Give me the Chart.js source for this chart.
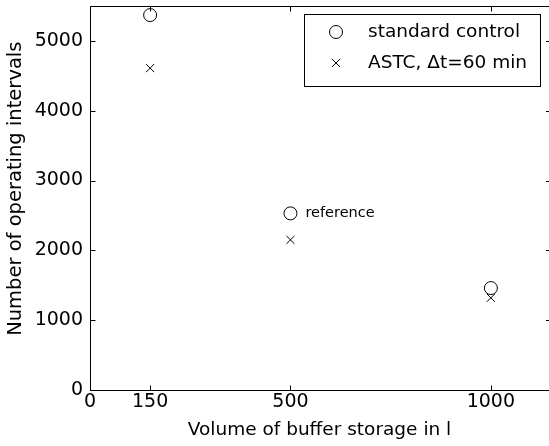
<!DOCTYPE html>
<html>
<head>
<meta charset="utf-8">
<script src="https://cdn.jsdelivr.net/npm/chart.js@4"></script>
<style>
  html, body { margin: 0; padding: 0; background: #fff; overflow: hidden; }
  #wrap { width: 549px; height: 446px; }
</style>
</head>
<body>
<div id="wrap"><canvas id="chart"></canvas></div>
<script>
// values
const volumes = [150, 500, 1000];
const standardControl = [5370, 2530, 1460];
const astc = [4610, 2150, 1320];

const xTicks = [0, 150, 500, 1000];
const yTicks = [0, 1000, 2000, 3000, 4000, 5000];
const seriesNames = ["standard control", "ASTC, \u0394t=60 min"];
const noteText = "reference";

const FONT = "'DejaVu Sans', sans-serif";

// frame, inward ticks, legend box and the "reference" note
const matlabAxes = {
  id: "matlabAxes",
  afterDatasetsDraw(chart) {
    const ctx = chart.ctx;
    const a = chart.chartArea;
    const xs = chart.scales.x, ys = chart.scales.y;
    const L = Math.round(a.left) + 0.5, T = Math.round(a.top) + 0.5;
    const B = Math.round(a.bottom) + 0.5, R = a.right;
    ctx.save();
    ctx.strokeStyle = "#000";
    ctx.lineWidth = 1;
    ctx.beginPath();
    ctx.moveTo(R, T); ctx.lineTo(L, T); ctx.lineTo(L, B); ctx.lineTo(R, B);
    xTicks.forEach(v => {
      const px = Math.round(xs.getPixelForValue(v)) + 0.5;
      ctx.moveTo(px, B); ctx.lineTo(px, B - 5);
      ctx.moveTo(px, T); ctx.lineTo(px, T + 5);
    });
    yTicks.forEach(v => {
      const py = Math.round(ys.getPixelForValue(v)) + 0.5;
      ctx.moveTo(L, py); ctx.lineTo(L + 5, py);
      ctx.moveTo(R, py); ctx.lineTo(R - 3, py);
    });
    ctx.stroke();

    // note next to the 500 l point
    ctx.fillStyle = "#000";
    ctx.font = "14.5px " + FONT;
    ctx.textBaseline = "middle";
    ctx.textAlign = "left";
    ctx.fillText(noteText, xs.getPixelForValue(volumes[1]) + 15, ys.getPixelForValue(standardControl[1]));

    // legend
    const bx = 304.5, by = 14.5, bw = 236, bh = 72;
    ctx.fillStyle = "#fff";
    ctx.fillRect(bx, by, bw, bh);
    ctx.strokeRect(bx, by, bw, bh);
    ctx.font = "18.5px " + FONT;
    chart.data.datasets.forEach((ds, i) => {
      const cy = 32 + i * 31;
      Chart.helpers.drawPoint(ctx, {
        pointStyle: ds.pointStyle, radius: ds.pointRadius, rotation: 0, borderWidth: 1
      }, 336, cy);
      ctx.fillStyle = "#000";
      ctx.fillText(ds.label, 368, cy);
    });
    ctx.restore();
  }
};

function toPoints(vals) {
  return vals.map((v, i) => ({ x: volumes[i], y: v }));
}

new Chart(document.getElementById("chart"), {
  type: "scatter",
  data: {
    datasets: [
      {
        label: seriesNames[0], data: toPoints(standardControl),
        pointStyle: "circle", pointRadius: 6.5, pointHoverRadius: 6.5,
        borderColor: "#000", backgroundColor: "rgba(0,0,0,0)", borderWidth: 1
      },
      {
        label: seriesNames[1], data: toPoints(astc),
        pointStyle: "crossRot", pointRadius: 5.7, pointHoverRadius: 5.7,
        borderColor: "#000", backgroundColor: "rgba(0,0,0,0)", borderWidth: 1
      }
    ]
  },
  options: {
    responsive: true,
    maintainAspectRatio: false,
    animation: false,
    layout: { autoPadding: false, padding: { top: 6, left: 0, right: 0, bottom: 0 } },
    plugins: { legend: { display: false }, tooltip: { enabled: false } },
    scales: {
      x: {
        type: "linear", min: 0, max: 1145,
        grid: { display: false, drawTicks: false },
        border: { display: false },
        afterBuildTicks: s => { s.ticks = xTicks.map(v => ({ value: v })); },
        afterFit: s => { s.height = 56; s.paddingLeft = 0; s.paddingRight = 0; },
        ticks: { color: "#000", padding: 1, maxRotation: 0, font: { family: FONT, size: 19 }, callback: v => String(v) },
        title: { display: true, text: "Volume of buffer storage in l", color: "#000",
                 font: { family: FONT, size: 18.5 }, padding: { top: 0, bottom: 5 } }
      },
      y: {
        type: "linear", min: 0, max: 5500,
        grid: { display: false, drawTicks: false },
        border: { display: false },
        afterBuildTicks: s => { s.ticks = yTicks.map(v => ({ value: v })); },
        afterFit: s => { s.width = 90; s.paddingTop = 0; s.paddingBottom = 0; },
        ticks: { color: "#000", padding: 7, font: { family: FONT, size: 19 }, callback: v => String(v) },
        // leading spaces nudge the centred title upward like the original
        title: { display: true, text: "   Number of operating intervals", color: "#000",
                 font: { family: FONT, size: 19.5 }, padding: { top: 4.5, bottom: 0 } }
      }
    }
  },
  plugins: [matlabAxes]
});
</script>
</body>
</html>
